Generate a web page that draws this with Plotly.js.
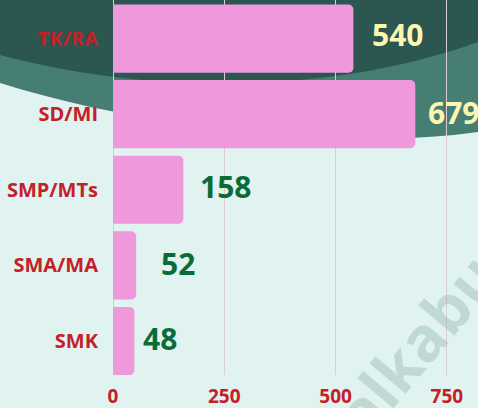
<!DOCTYPE html>
<html>
<head>
<meta charset="utf-8">
<script src="https://cdn.plot.ly/plotly-3.0.1.min.js"></script>
<style>
html,body{margin:0;padding:0;background:#e0f3f1;}
#chart{width:478px;height:408px;}
</style>
</head>
<body>
<div id="chart"></div>
<script>
const categories = ["TK/RA", "SD/MI", "SMP/MTs", "SMA/MA", "SMK"];
const values = [540, 679, 158, 52, 48];
const xTicks = [0, 250, 500, 750];
const xTickLabels = ["0", "250", "500", "750"];

// label styling (not data)
const labelColors = ["#fdf5b2", "#fdf5b2", "#0b6b37", "#0b6b37", "#0b6b37"];
const labelXShift = [17, 11, 15, 23, 7];
const labelYShift = [4, 2, 3, 2, 2];

const W = 478, H = 408;
const mL = 113, mR = 0, mT = 0, mB = 33;
const pw = W - mL - mR, ph = H - mT - mB;
function px(x){ return ((x - mL) / pw).toFixed(4); }
function py(y){ return (1 - (y - mT) / ph).toFixed(4); }

const tealPath = `M ${px(0)} ${py(0)} L ${px(0)} ${py(83)} C ${px(150)} ${py(130)} ${px(350)} ${py(150)} ${px(478)} ${py(132)} L ${px(478)} ${py(0)} Z`;
const darkPath = `M ${px(0)} ${py(0)} L ${px(0)} ${py(55)} C ${px(150)} ${py(95)} ${px(330)} ${py(95)} ${px(478)} ${py(42)} L ${px(478)} ${py(0)} Z`;

const font = "'Open Sans', 'Noto Sans', sans-serif";

const trace = {
  type: "bar",
  orientation: "h",
  y: categories,
  x: values,
  marker: { color: "#ef98dc", cornerradius: 5, line: { width: 0 } },
  hoverinfo: "none"
};

const annotations = categories.map((c, i) => ({
  x: values[i], y: c, xref: "x", yref: "y",
  text: String(values[i]), showarrow: false,
  xanchor: "left", yanchor: "middle",
  xshift: labelXShift[i], yshift: labelYShift[i],
  font: { family: font, size: 30, color: labelColors[i], weight: 700 }
}));

annotations.push({
  xref: "paper", yref: "paper",
  x: px(416), y: py(344),
  xanchor: "center", yanchor: "middle",
  text: "alkabu", showarrow: false, textangle: -50,
  font: { family: font, size: 62, color: "rgba(150,180,174,0.42)", weight: 700 }
});

const layout = {
  width: W, height: H,
  margin: { l: mL, r: mR, t: mT, b: mB, pad: 0 },
  paper_bgcolor: "#e0f3f1",
  plot_bgcolor: "rgba(0,0,0,0)",
  bargap: 0.098,
  showlegend: false,
  xaxis: {
    range: [0, pw / 111.3 * 250],
    tickvals: xTicks, ticktext: xTickLabels,
    showgrid: true, gridcolor: "#d8cfcf", gridwidth: 1,
    zeroline: true, zerolinecolor: "#d8cfcf", zerolinewidth: 1,
    showline: false, ticks: "",
    ticklabelstandoff: 8,
    tickfont: { family: font, size: 19, color: "#c42027", weight: 700 },
    fixedrange: true
  },
  yaxis: {
    type: "category",
    categoryorder: "array", categoryarray: categories,
    range: [4.45, -0.51],
    showgrid: false, zeroline: false, showline: false, ticks: "",
    ticklabelstandoff: 14,
    tickfont: { family: font, size: 20, color: "#c42027", weight: 700 },
    fixedrange: true
  },
  shapes: [
    { type: "path", xref: "paper", yref: "paper", path: tealPath, fillcolor: "#467e74", line: { width: 0 }, layer: "below" },
    { type: "path", xref: "paper", yref: "paper", path: darkPath, fillcolor: "#2c5650", line: { width: 0 }, layer: "below" }
  ],
  annotations: annotations
};

Plotly.newPlot("chart", [trace], layout, { displayModeBar: false, staticPlot: true });
</script>
</body>
</html>
